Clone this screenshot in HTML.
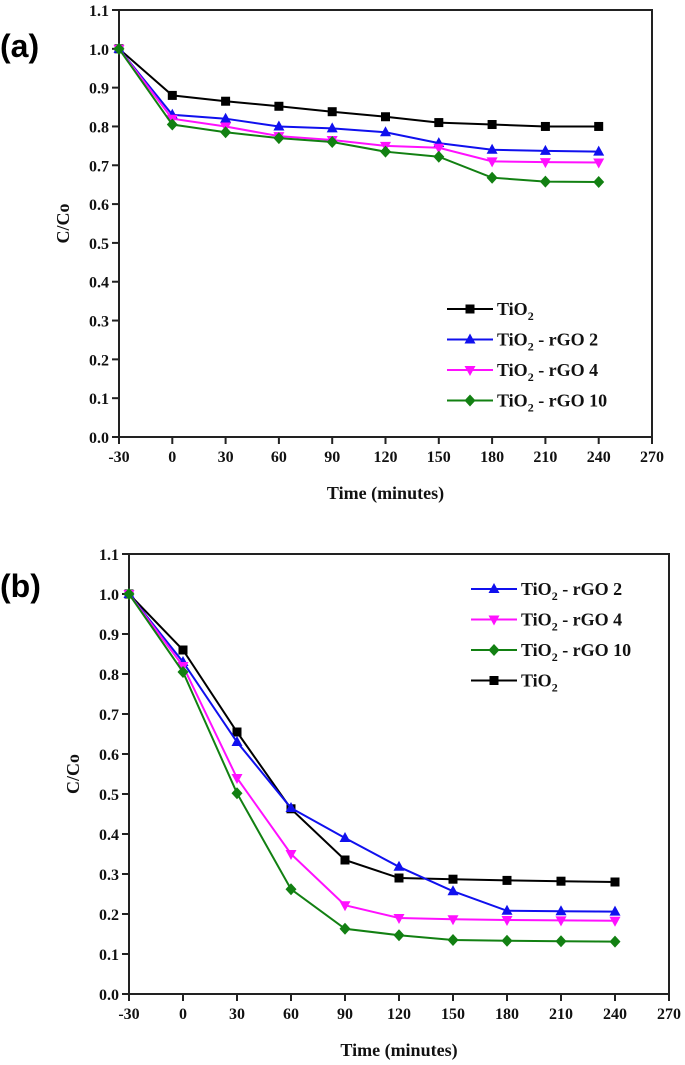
<!DOCTYPE html>
<html><head><meta charset="utf-8"><style>
body{margin:0;background:#fff;width:685px;height:1065px;overflow:hidden}
svg{display:block}
text{font-family:"Liberation Serif",serif;font-weight:bold;fill:#111}
.lbl{font-family:"Liberation Sans",sans-serif;font-size:32px;fill:#000}
</style></head><body>
<svg id="s" width="685" height="1065">
<text class="lbl" x="0" y="57">(a)</text>
<text class="lbl" x="0" y="597">(b)</text>
</svg>
<script>
const times=[-30,0,30,60,90,120,150,180,210,240];
const xTicks=[-30,0,30,60,90,120,150,180,210,240,270];
const yTicks=[0,0.1,0.2,0.3,0.4,0.5,0.6,0.7,0.8,0.9,1.0,1.1];
const aTiO2=[1,0.88,0.865,0.852,0.838,0.825,0.81,0.805,0.80,0.80];
const aRGO2=[1,0.83,0.82,0.80,0.795,0.785,0.757,0.74,0.737,0.735];
const aRGO4=[1,0.82,0.80,0.775,0.765,0.75,0.745,0.71,0.708,0.707];
const aRGO10=[1,0.805,0.785,0.77,0.76,0.735,0.722,0.668,0.658,0.657];
const bTiO2=[1,0.86,0.655,0.463,0.335,0.29,0.287,0.284,0.282,0.28];
const bRGO2=[1,0.83,0.63,0.465,0.39,0.318,0.257,0.208,0.207,0.206];
const bRGO4=[1,0.82,0.54,0.35,0.222,0.19,0.187,0.185,0.184,0.183];
const bRGO10=[1,0.805,0.502,0.262,0.163,0.147,0.135,0.133,0.132,0.131];
const NS="http://www.w3.org/2000/svg";
const svg=document.getElementById('s');
function mk(tag,at,parent){const e=document.createElementNS(NS,tag);for(const k in at)e.setAttribute(k,at[k]);(parent||svg).appendChild(e);return e;}
function marker(g,kind,x,y,color){
 let e;
 if(kind==='sq')e=mk('rect',{x:x-4.5,y:y-4.5,width:9,height:9,fill:color},g);
 else if(kind==='up')e=mk('polygon',{points:`${x},${y-6} ${x+5.5},${y+4} ${x-5.5},${y+4}`,fill:color},g);
 else if(kind==='dn')e=mk('polygon',{points:`${x},${y+6} ${x+5.5},${y-4} ${x-5.5},${y-4}`,fill:color},g);
 else e=mk('polygon',{points:`${x},${y-6} ${x+5.5},${y} ${x},${y+6} ${x-5.5},${y}`,fill:color},g);
 
 
}
function sub(t,x,y,suffix,g){
 const e=mk('text',{x:x,y:y,'font-size':18},g);
 e.innerHTML='TiO<tspan font-size="12" dy="5">2</tspan><tspan dy="-5">'+suffix+'</tspan>';
 
 
}
function chart(p){
 const X=v=>p.x0+(v+30)/300*(p.x1-p.x0);
 const Y=v=>p.y0-v/1.1*(p.y0-p.yt);
 const g=mk('g',{});
 
 
 const fr=mk('rect',{x:p.x0,y:p.yt,width:p.x1-p.x0,height:p.y0-p.yt,fill:'none',stroke:'#222','stroke-width':2},g);
 
 
 xTicks.forEach(t=>{const x=X(t);mk('line',{x1:x,x2:x,y1:p.y0,y2:p.y0+7,stroke:'#222','stroke-width':2},g);
  const tx=mk('text',{x:x,y:p.y0+25,'font-size':16,'text-anchor':'middle'},g);tx.textContent=t;
  
  });
 yTicks.forEach(t=>{const y=Y(t);mk('line',{x1:p.x0-7,x2:p.x0,y1:y,y2:y,stroke:'#222','stroke-width':2},g);
  const tx=mk('text',{x:p.x0-10,y:y+6,'font-size':16,'text-anchor':'end'},g);tx.textContent=t.toFixed(1);
  
  });
 const xt=mk('text',{x:(p.x0+p.x1)/2,y:p.y0+62,'font-size':18,'text-anchor':'middle'},g);xt.textContent='Time (minutes)';
 
 
 const cy=(p.y0+p.yt)/2;
 const yt=mk('text',{x:p.x0-50,y:cy,'font-size':18,'text-anchor':'middle',transform:`rotate(-90 ${p.x0-50} ${cy})`},g);yt.textContent='C/Co';
 
 
 p.series.forEach(s=>{
  const pl=mk('polyline',{points:s.d.map((v,i)=>X(times[i])+','+Y(v)).join(' '),fill:'none',stroke:s.c,'stroke-width':2},g);
  
  
  s.d.forEach((v,i)=>marker(g,s.m,X(times[i]),Y(v),s.c));
 });
 p.legend.forEach((s,i)=>{
  const y=p.ly+i*30.5;
  const l=mk('line',{x1:p.lx,x2:p.lx+46,y1:y,y2:y,stroke:s.c,'stroke-width':2},g);
  
  
  marker(g,s.m,p.lx+23,y,s.c);
  sub(0,p.lx+50,y+6,s.t,g);
 });
}
const A=[{d:aTiO2,c:'#000',m:'sq',t:''},{d:aRGO2,c:'#1010ee',m:'up',t:' - rGO 2'},{d:aRGO4,c:'#ff10ff',m:'dn',t:' - rGO 4'},{d:aRGO10,c:'#128012',m:'di',t:' - rGO 10'}];
chart({name:'chart-a',x0:119,x1:652,y0:437,yt:10,series:A,legend:A,lx:447,ly:309});
const B=[{d:bTiO2,c:'#000',m:'sq',t:''},{d:bRGO2,c:'#1010ee',m:'up',t:' - rGO 2'},{d:bRGO4,c:'#ff10ff',m:'dn',t:' - rGO 4'},{d:bRGO10,c:'#128012',m:'di',t:' - rGO 10'}];
chart({name:'chart-b',x0:129,x1:669,y0:994,yt:554,series:B,legend:[B[1],B[2],B[3],B[0]],lx:471,ly:589});
</script>
</body></html>
